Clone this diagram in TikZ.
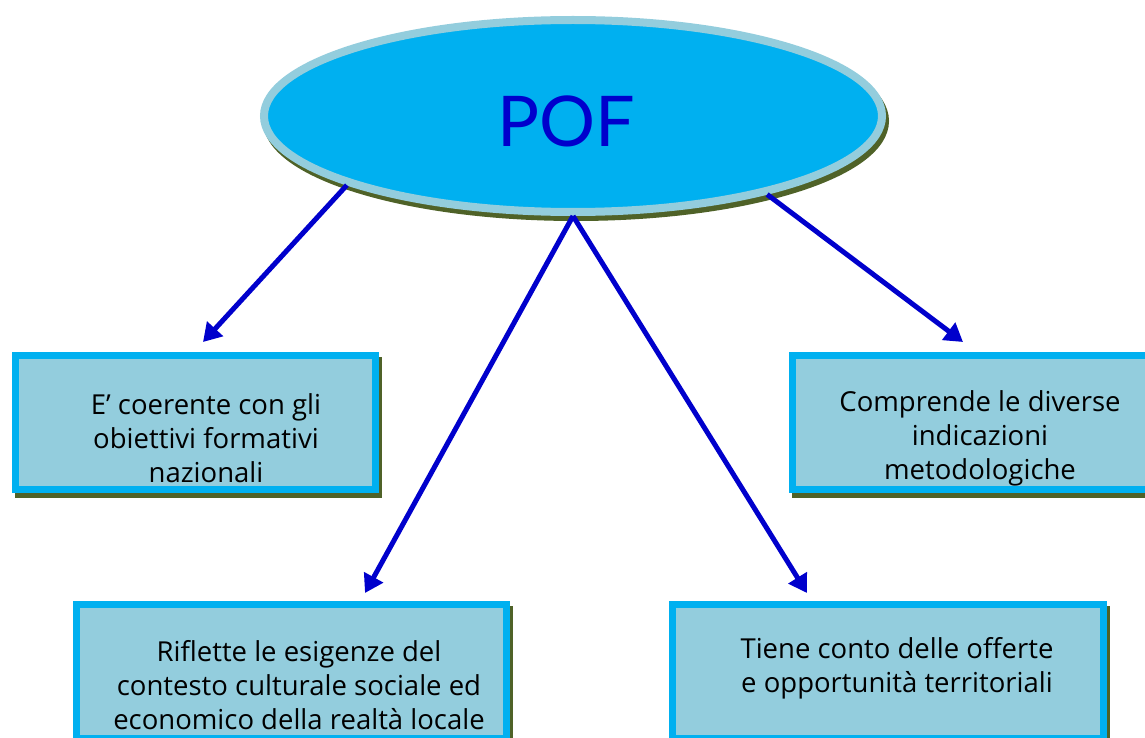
\documentclass[tikz,border=0pt]{standalone}
\usepackage{fontspec}
\setmainfont{Open Sans}
\newfontfamily\titlefont{Lato}
\usetikzlibrary{arrows.meta,shapes.geometric}

\begin{document}
\begin{tikzpicture}[x=1pt,y=-1pt,
    ombra/.style={preaction={draw=shadowolive, fill=shadowolive,
        transform canvas={xshift=3pt,yshift=-5pt}}},
    box/.style={rectangle, draw=boxedge, fill=boxfill, line width=7pt, ombra},
    testo/.style={align=center, text=black, font=\fontsize{27.5}{34}\selectfont},
    freccia/.style={draw=arrowblue, line width=5pt, -{Triangle[length=18pt,width=21pt]}}]

    % 色の設定
    \definecolor{boxedge}{HTML}{00B0F0}
    \definecolor{boxfill}{HTML}{93CDDD}
    \definecolor{shadowolive}{HTML}{4F6228}
    \definecolor{arrowblue}{HTML}{0000CC}

    \useasboundingbox (0,0) rectangle (1145,738);

    % 楕円 (POF)
    \node[ellipse, draw=boxfill, fill=boxedge, line width=8pt, ombra, inner sep=0pt,
        minimum width=618pt, minimum height=192pt] (pof) at (573,116) {};
    \node[text=arrowblue, font=\titlefont\fontsize{70}{70}\selectfont] (titolo) at (566,121) {POF};

    % 四つの箱
    \node[box, minimum width=360pt, minimum height=134pt] (b1) at (195.5,422.5) {};
    \node[box, minimum width=430pt, minimum height=134pt] (b2) at (291.5,671.5) {};
    \node[box, minimum width=364pt, minimum height=134pt] (b3) at (974.5,422.5) {};
    \node[box, minimum width=431pt, minimum height=134pt] (b4) at (888,671.5) {};

    % 箱の中の文
    \node[testo] (l1) at (206,438) {E’ coerente con gli\\obiettivi formativi\\nazionali};
    \node[testo] (l2) at (299,685) {Riflette le esigenze del\\contesto culturale sociale ed\\economico della realtà locale};
    \node[testo] (l3) at (980,438) {Comprende le diverse\\indicazioni\\metodologiche};
    \node[testo] (l4) at (897,668) {Tiene conto delle offerte\\e opportunità territoriali};

    % 矢印
    \coordinate (t1) at (203,342);
    \coordinate (t2) at (365,593);
    \coordinate (t3) at (807,593);
    \coordinate (t4) at (963,342);
    \foreach \da/\a in {pof.197.6/t1, pof.south/t2, pof.south/t3, pof.338/t4}
        \draw[freccia] (\da) -- (\a);

\end{tikzpicture}
\end{document}
